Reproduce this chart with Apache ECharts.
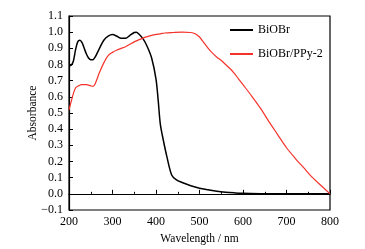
<!DOCTYPE html>
<html>
<head>
<meta charset="utf-8">
<script src="https://cdn.jsdelivr.net/npm/echarts@6/dist/echarts.min.js"></script>
<style>
  html, body { margin: 0; padding: 0; background: #fff; }
  #chart { width: 365px; height: 249px; }
</style>
</head>
<body>
<div id="chart"></div>
<script>
// BiOBr
let wlBiOBr = [200, 205, 210, 215, 220, 225, 230, 235, 240, 245, 250, 255, 260, 270, 280, 290, 300, 310, 320, 330,
               340, 350, 355, 360, 370, 380, 390, 400, 405, 410, 417, 425, 436, 447, 460, 480, 500, 520, 540, 560,
               580, 600, 650, 700, 750, 800];
let absBiOBr = [0.79, 0.795, 0.82, 0.89, 0.94, 0.95, 0.935, 0.9, 0.865, 0.84, 0.83, 0.83, 0.845, 0.9, 0.95, 0.975, 0.985, 0.975, 0.962, 0.962,
                0.98, 0.998, 1.0, 0.99, 0.96, 0.91, 0.84, 0.71, 0.58, 0.43, 0.33, 0.23, 0.117, 0.086, 0.07, 0.05, 0.035, 0.025, 0.016, 0.01,
                0.006, 0.003, 0.0, 0.0, 0.0, 0.0];

// BiOBr/PPy-2
let wlPPy = [200, 205, 210, 215, 220, 230, 240, 250, 255, 260, 270, 280, 290, 300, 310, 320, 330, 340, 350, 360,
             370, 380, 390, 400, 410, 420, 440, 460, 480, 490, 500, 510, 520, 530, 540, 550, 560, 570, 580, 590,
             600, 620, 640, 660, 680, 700, 720, 740, 760, 780, 800];
let absPPy = [0.52, 0.57, 0.62, 0.655, 0.665, 0.675, 0.675, 0.668, 0.665, 0.68, 0.75, 0.81, 0.855, 0.875, 0.89, 0.9, 0.91, 0.925, 0.94, 0.952,
              0.963, 0.972, 0.98, 0.986, 0.99, 0.995, 0.998, 1.0, 0.998, 0.99, 0.97, 0.935, 0.9, 0.87, 0.845, 0.825, 0.8, 0.775, 0.745, 0.71,
              0.675, 0.605, 0.53, 0.445, 0.365, 0.285, 0.22, 0.16, 0.1, 0.05, 0.0];

let seriesNames = ['BiOBr', 'BiOBr/PPy-2'];

function pairs(xs, ys) {
    let out = [];
    for (let i = 0; i < xs.length; i++) {
        out.push([xs[i], ys[i]]);
    }
    return out;
}

let font = '"Liberation Serif", "DejaVu Serif", serif';

let option = {
    animation: false,
    textStyle: { fontFamily: font },
    grid: {
        left: 69, right: 35, top: 16, bottom: 39,
        outerBoundsMode: 'none',
        show: true, borderColor: '#000', borderWidth: 1.2
    },
    legend: {
        data: seriesNames,
        orient: 'vertical',
        left: 225,
        top: 18,
        icon: 'rect',
        itemWidth: 23,
        itemHeight: 2,
        itemGap: 10,
        textStyle: { fontFamily: font, fontSize: 12, color: '#000', lineHeight: 14 }
    },
    xAxis: {
        type: 'value',
        min: 200, max: 800, interval: 100,
        name: 'Wavelength / nm',
        nameLocation: 'middle',
        nameGap: 23,
        nameTextStyle: { fontFamily: font, fontSize: 11.5, color: '#000' },
        axisLine: { lineStyle: { color: '#000', width: 1.2 } },
        axisTick: { inside: true, length: 4, lineStyle: { color: '#000' } },
        minorTick: { show: true, splitNumber: 2, length: 2, lineStyle: { color: '#000' } },
        axisLabel: { color: '#000', fontSize: 12, margin: 6, fontFamily: font },
        splitLine: { show: false }
    },
    yAxis: {
        type: 'value',
        min: -0.1, max: 1.1, interval: 0.1,
        name: 'Absorbance',
        nameLocation: 'middle',
        nameGap: 30,
        nameMoveOverlap: false,
        nameTextStyle: { fontFamily: font, fontSize: 11.5, color: '#000' },
        axisLine: { show: true, lineStyle: { color: '#000', width: 1.2 } },
        axisTick: { inside: true, length: 4, lineStyle: { color: '#000' } },
        axisLabel: {
            color: '#000', fontSize: 12, margin: 6, fontFamily: font,
            formatter: function (v) { return v.toFixed(1).replace('-', '\u2212'); }
        },
        splitLine: { show: false }
    },
    series: [
        {
            name: seriesNames[0],
            type: 'line',
            smooth: 0.3,
            symbol: 'none',
            lineStyle: { color: '#000', width: 1.5 },
            itemStyle: { color: '#000' },
            data: pairs(wlBiOBr, absBiOBr)
        },
        {
            name: seriesNames[1],
            type: 'line',
            smooth: 0.3,
            symbol: 'none',
            lineStyle: { color: '#f5332b', width: 1.2 },
            itemStyle: { color: '#f5332b' },
            data: pairs(wlPPy, absPPy)
        }
    ]
};

let chart = echarts.init(document.getElementById('chart'));
chart.setOption(option);
</script>
</body>
</html>
